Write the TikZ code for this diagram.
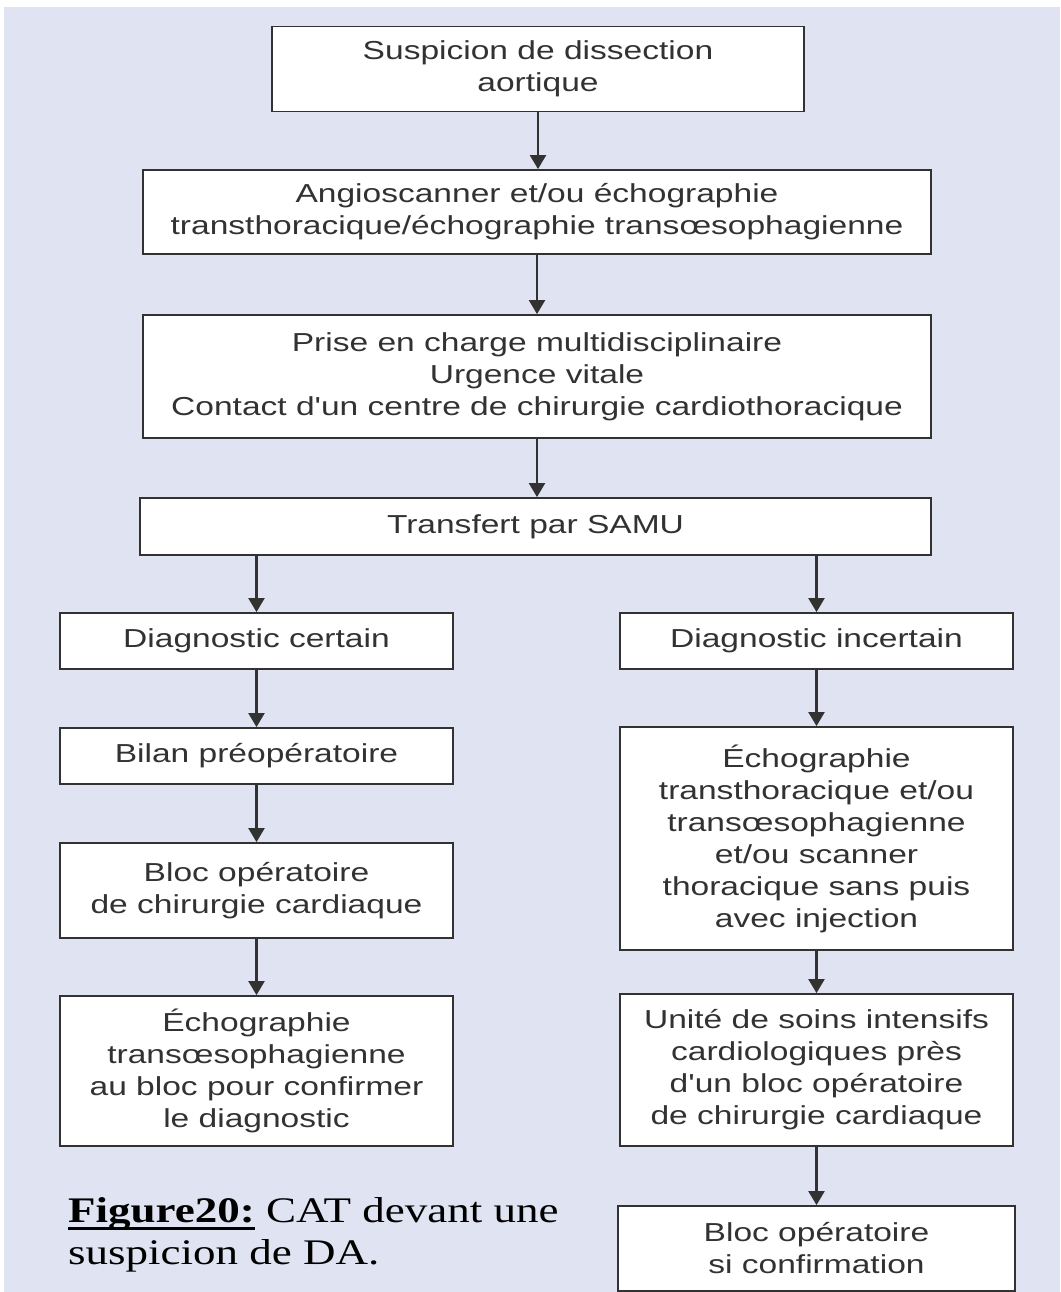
\documentclass[tikz,border=0pt]{standalone}
\usepackage{fontspec}
\setmainfont{Liberation Serif}
\newfontfamily\boxfont[FakeStretch=1.29]{Liberation Sans}
\newfontfamily\legfont[FakeStretch=1.25]{Liberation Serif}
\usetikzlibrary{arrows.meta}
\definecolor{fondbleu}{RGB}{224,228,242}
\definecolor{trait}{RGB}{50,50,50}
\newcommand\souligne[1]{\setbox0\hbox{#1}\rlap{\rule[-8pt]{\wd0}{3pt}}\box0\relax}
\tikzset{
  etape/.style={draw=trait, line width=1.8pt, fill=white, text=trait, align=center,
    font=\boxfont\fontsize{26}{32}\selectfont, inner sep=0pt},
  gauche/.style={etape, minimum width=393pt},
  droite/.style={etape, minimum width=393pt},
  fleche/.style={draw=trait, line width=2.2pt, -{Triangle[length=14pt,width=16pt]}}
}
\begin{document}
\begin{tikzpicture}[x=1pt,y=1pt]
\fill[white] (0,0) rectangle (1060,-1292);
\fill[fondbleu] (4,-7) rectangle (1060,-1292);
\useasboundingbox (0,0) rectangle (1060,-1292);

% tronc commun
\node[etape, minimum width=532pt, minimum height=85pt] (susp) at (538,-69) {Suspicion de dissection\\aortique};
\node[etape, minimum width=788pt, minimum height=84pt] (angio) at (537,-212) {Angioscanner et/ou échographie\\transthoracique/échographie transœsophagienne};
\node[etape, minimum width=788pt, minimum height=123pt] (prise) at (537,-376.5) {Prise en charge multidisciplinaire\\Urgence vitale\\Contact d'un centre de chirurgie cardiothoracique};
\node[etape, minimum width=791pt, minimum height=57pt] (transf) at (535.5,-526.5) {Transfert par SAMU};

% diagnostic certain
\node[gauche, minimum height=56pt] (dcert) at (256.5,-641) {Diagnostic certain};
\node[gauche, minimum height=56pt] (bilan) at (256.5,-756) {Bilan préopératoire};
\node[gauche, minimum height=95pt] (blocop) at (256.5,-890.5) {Bloc opératoire\\de chirurgie cardiaque};
\node[gauche, minimum height=150pt] (etoe) at (256.5,-1071) {Échographie\\transœsophagienne\\au bloc pour confirmer\\le diagnostic};

% diagnostic incertain
\node[droite, minimum height=56pt] (dinc) at (816.5,-641) {Diagnostic incertain};
\node[droite, minimum height=223pt] (eco) at (816.5,-838.5) {Échographie\\transthoracique et/ou\\transœsophagienne\\et/ou scanner\\thoracique sans puis\\avec injection};
\node[droite, minimum height=152pt] (usic) at (816.5,-1070) {Unité de soins intensifs\\cardiologiques près\\d'un bloc opératoire\\de chirurgie cardiaque};
\node[droite, minimum width=397pt, minimum height=85pt] (blocconf) at (816.5,-1248.5) {Bloc opératoire\\si confirmation};

% fleches
\draw[fleche] (susp.south) -- (susp.south |- angio.north);
\draw[fleche] (angio.south) -- (angio.south |- prise.north);
\draw[fleche] (prise.south) -- (prise.south |- transf.north);
\draw[fleche] (transf.south -| dcert.north) -- (dcert.north);
\draw[fleche] (transf.south -| dinc.north) -- (dinc.north);
\draw[fleche] (dcert) -- (bilan);
\draw[fleche] (bilan) -- (blocop);
\draw[fleche] (blocop) -- (etoe);
\draw[fleche] (dinc) -- (eco);
\draw[fleche] (eco) -- (usic);
\draw[fleche] (usic) -- (blocconf);

% legende
\node[anchor=base west, align=left, inner sep=0pt, font=\legfont\fontsize{36}{42}\selectfont] (legende) at (68,-1264)
  {\souligne{\textbf{Figure20:}} CAT devant une\\suspicion de DA.};
\end{tikzpicture}
\end{document}
